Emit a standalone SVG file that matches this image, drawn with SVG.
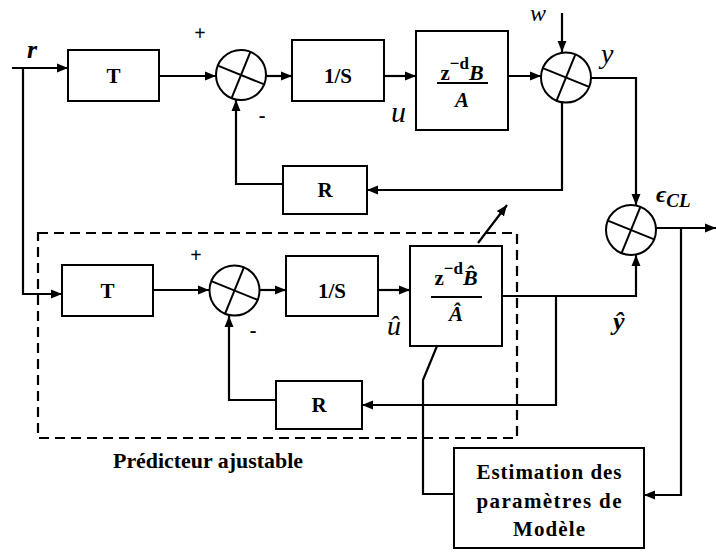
<svg xmlns="http://www.w3.org/2000/svg" width="716" height="552" viewBox="0 0 716 552">
<style>
.box{fill:#fff;stroke:#000;stroke-width:2}
.ln{fill:none;stroke:#000;stroke-width:2.2}
.arr{marker-end:url(#ah)}
.blk{font-family:"Liberation Serif","DejaVu Serif",serif;font-weight:bold;font-size:21px;text-anchor:middle;fill:#000}
.it{font-family:"Liberation Serif","DejaVu Serif",serif;font-style:italic;fill:#000}
.bi{font-family:"Liberation Serif","DejaVu Serif",serif;font-style:italic;font-weight:bold;fill:#000}
.sg{font-family:"Liberation Serif",serif;font-weight:bold;font-size:20px;text-anchor:middle;fill:#000}
</style>
<defs>
<marker id="ah" markerUnits="userSpaceOnUse" markerWidth="12" markerHeight="10" refX="11" refY="5" orient="auto">
<path d="M0,0.5 L11,5 L0,9.5 z" fill="#000"/>
</marker>
<g id="sumj">
<circle cx="0" cy="0" r="25" fill="#fff" stroke="#000" stroke-width="2"/>
<line x1="-23.2" y1="-9.4" x2="23.2" y2="9.4" stroke="#000" stroke-width="2"/>
<line x1="-9.4" y1="23.2" x2="9.4" y2="-23.2" stroke="#000" stroke-width="2"/>
</g>
</defs>
<rect width="716" height="552" fill="#fff"/>

<g id="predicteur">
<rect x="38" y="233" width="479" height="205" fill="none" stroke="#000" stroke-width="2.2" stroke-dasharray="10,6"/>
<text class="blk" x="208" y="468" font-size="20" textLength="190" lengthAdjust="spacingAndGlyphs">Prédicteur ajustable</text>
</g>

<g id="connectors">
<polyline class="ln arr" points="12,68 68,68"/>
<polyline class="ln arr" points="23,68 23,294 62,294"/>
<polyline class="ln arr" points="159,76 216,76"/>
<polyline class="ln arr" points="266,76 292,76"/>
<polyline class="ln arr" points="384,76 416,76"/>
<polyline class="ln arr" points="508,76 541,76"/>
<polyline class="ln arr" points="562,13 562,52"/>
<polyline class="ln arr" points="591,78 636,78 636,205"/>
<polyline class="ln arr" points="562,102 562,190 367,190"/>
<polyline class="ln arr" points="283,184 236,184 236,100"/>
<polyline class="ln arr" points="153,290 209,290"/>
<polyline class="ln arr" points="260,290 286,290"/>
<polyline class="ln arr" points="378,290 410,290"/>
<polyline class="ln arr" points="502,296 636,296 636,255"/>
<polyline class="ln arr" points="556,296 556,405 362,405"/>
<polyline class="ln arr" points="276,400 229,400 229,316"/>
<polyline class="ln arr" points="656,228 716,228"/>
<polyline class="ln arr" points="681,228 681,495 644,495"/>
<polyline class="ln arr" points="478,243 507,205"/>
<polyline class="ln" points="437,346 423,380 423,494 454,494"/>
</g>

<g id="T1"><rect class="box" x="68" y="50" width="91" height="51"/><text class="blk" x="113.5" y="83">T</text></g>
<g id="sum1"><use href="#sumj" x="241" y="75"/></g>
<g id="S1"><rect class="box" x="292" y="40" width="92" height="61"/><text class="blk" x="338" y="83">1/S</text></g>
<g id="G1"><rect class="box" x="416" y="31" width="92" height="99"/>
<text class="blk" x="462" y="80"><tspan>z</tspan><tspan font-size="17" dy="-11">−d</tspan><tspan class="bi" font-size="22" dy="11">B</tspan></text>
<line x1="437" y1="83" x2="488" y2="83" stroke="#000" stroke-width="2.2"/>
<text class="bi" x="462" y="107" font-size="21" text-anchor="middle">A</text>
</g>
<g id="sum2"><use href="#sumj" x="566" y="77.5"/></g>
<g id="R1"><rect class="box" x="283" y="166" width="84" height="48"/><text class="blk" x="325" y="197">R</text></g>

<g id="T2"><rect class="box" x="62" y="265" width="91" height="51"/><text class="blk" x="107.5" y="298">T</text></g>
<g id="sum3"><use href="#sumj" x="234.5" y="290.5"/></g>
<g id="S2"><rect class="box" x="286" y="256" width="92" height="60"/><text class="blk" x="332" y="298">1/S</text></g>
<g id="G2"><rect class="box" x="410" y="246" width="92" height="100"/>
<text class="blk" x="456" y="285"><tspan>z</tspan><tspan font-size="17" dy="-11">−d</tspan><tspan class="bi" font-size="22" dy="11">B̂</tspan></text>
<line x1="431" y1="297" x2="482" y2="297" stroke="#000" stroke-width="2.2"/>
<text class="bi" x="456" y="321" font-size="21" text-anchor="middle">Â</text>
</g>
<g id="R2"><rect class="box" x="276" y="381" width="86" height="48"/><text class="blk" x="319" y="412">R</text></g>
<g id="sum4"><use href="#sumj" x="631" y="230"/></g>

<g id="estimation"><rect class="box" x="454" y="448" width="190" height="100"/>
<text class="blk" x="549" y="479" font-size="19" textLength="145" lengthAdjust="spacing">Estimation des</text>
<text class="blk" x="549" y="508" font-size="19" textLength="145" lengthAdjust="spacing">paramètres de</text>
<text class="blk" x="549" y="536" font-size="19" textLength="72" lengthAdjust="spacing">Modèle</text>
</g>

<g id="labels">
<text class="bi" x="27" y="58" font-size="26">r</text>
<text class="sg" x="200" y="40">+</text>
<text class="sg" x="262" y="122">-</text>
<text class="sg" x="196" y="262">+</text>
<text class="sg" x="253" y="337">-</text>
<text class="it" x="391" y="122" font-size="30">u</text>
<text class="it" x="530" y="21" font-size="24">w</text>
<text class="it" x="601" y="63" font-size="28">y</text>
<text class="it" x="387" y="335" font-size="28">û</text>
<text class="bi" x="613" y="330" font-size="26">ŷ</text>
<text class="bi" x="656" y="202" font-size="24">ϵ<tspan font-size="19" dy="5">CL</tspan></text>
</g>
</svg>
